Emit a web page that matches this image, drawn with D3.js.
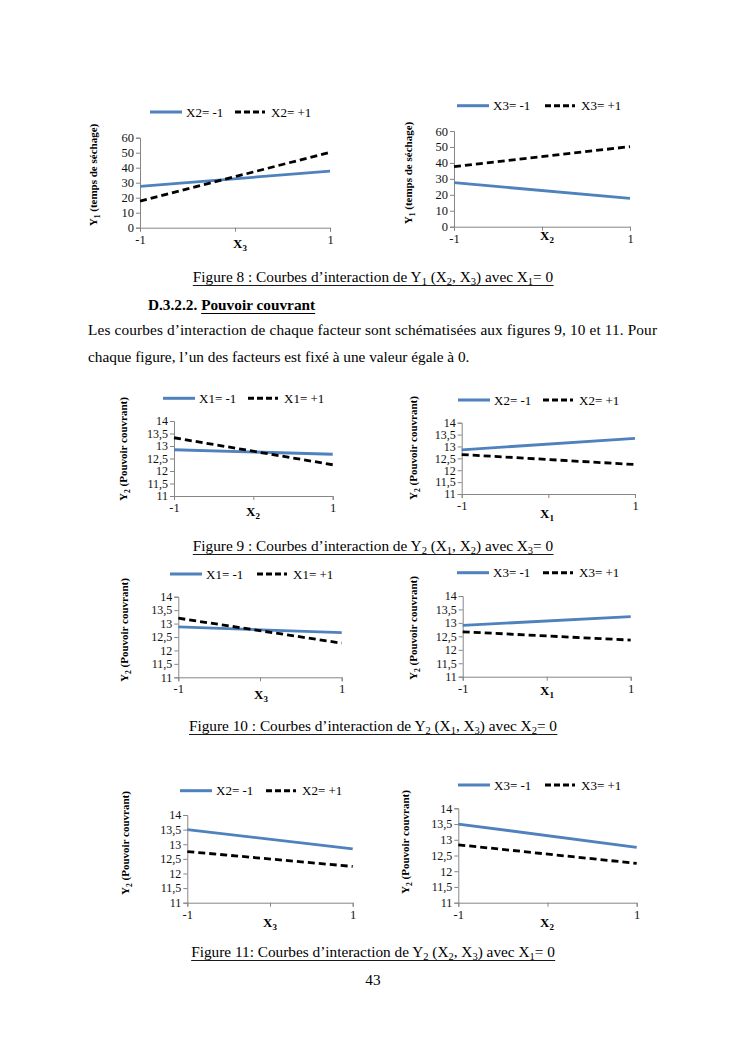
<!DOCTYPE html>
<html>
<head>
<meta charset="utf-8">
<script src="https://cdn.jsdelivr.net/npm/d3@7"></script>
<style>
  body { margin: 0; background: #fff; }
  svg, svg text { font-family: "Liberation Serif", "Times New Roman", serif; }
</style>
</head>
<body>
<div id="page"></div>
<script>
// --- data ---
const xCats = [-1, 1];
const y1Ticks = [0, 10, 20, 30, 40, 50, 60];
const y2Ticks = [11, 11.5, 12, 12.5, 13, 13.5, 14];
const y2TickLabels = ["11", "11,5", "12", "12,5", "13", "13,5", "14"];

const fig8a_low = [27.6, 37.7],  fig8a_high = [17.7, 50.3];
const fig8b_low = [27.6, 17.8],  fig8b_high = [37.7, 50.2];
const fig9a_low = [12.85, 12.67], fig9a_high = [13.33, 12.25];
const fig9b_low = [12.86, 13.34], fig9b_high = [12.66, 12.24];
const fig10a_low = [12.88, 12.66], fig10a_high = [13.2, 12.27];
const fig10b_low = [12.91, 13.23], fig10b_high = [12.67, 12.36];
const fig11a_low = [13.5, 12.84], fig11a_high = [12.75, 12.24];
const fig11b_low = [13.5, 12.76], fig11b_high = [12.84, 12.25];

const W = 745, H = 1053;
const blue = "#4f81bd", axisCol = "#868686";
const serif = "Liberation Serif";

const svg = d3.select("#page").append("svg")
  .attr("width", W).attr("height", H)
  .attr("font-family", serif);

// write text made of [string, isSub] parts
function rich(sel, parts, subSize, shift) {
  let shifted = 0;
  parts.forEach(([s, sub]) => {
    const t = sel.append("tspan").text(s);
    if (sub && !shifted) { t.attr("dy", shift).attr("font-size", subSize); shifted = 1; }
    else if (!sub && shifted) { t.attr("dy", -shift); shifted = 0; }
  });
  return sel;
}

function underline(sel, y) {
  const b = sel.node().getBBox();
  svg.append("line")
    .attr("x1", b.x).attr("x2", b.x + b.width)
    .attr("y1", y).attr("y2", y)
    .attr("stroke", "#000").attr("stroke-width", 0.9);
}

// --- panels ---
const panels = [
  { low: fig8a_low, high: fig8a_high, y1: true, leg: "X2", xl: "3",
    ax: 140, ar: 330, top: 137.7, bot: 227.7, ly: 112, lb: 150, lk: 235,
    tx: 93, ty: 175, yl: "1", ytitle: " (temps de séchage)", xlx: 240, xly: 248 },
  { low: fig8b_low, high: fig8b_high, y1: true, leg: "X3", xl: "2",
    ax: 454, ar: 630, top: 131, bot: 226.7, ly: 105.7, lb: 457, lk: 545,
    tx: 408, ty: 173, yl: "1", ytitle: " (temps de séchage)", xlx: 547, xly: 240 },
  { low: fig9a_low, high: fig9a_high, leg: "X1", xl: "2",
    ax: 174, ar: 332.7, top: 421, bot: 496, ly: 398.3, lb: 163, lk: 248,
    tx: 123, ty: 449, yl: "2", ytitle: " (Pouvoir couvrant)", xlx: 253, xly: 516 },
  { low: fig9b_low, high: fig9b_high, leg: "X2", xl: "1",
    ax: 461.7, ar: 635, top: 422.7, bot: 494, ly: 400, lb: 458, lk: 543,
    tx: 413, ty: 448, yl: "2", ytitle: " (Pouvoir couvrant)", xlx: 547, xly: 518 },
  { low: fig10a_low, high: fig10a_high, leg: "X1", xl: "3",
    ax: 178.3, ar: 341.7, top: 596.7, bot: 677.3, ly: 574, lb: 170, lk: 257,
    tx: 124, ty: 630, yl: "2", ytitle: " (Pouvoir couvrant)", xlx: 261, xly: 699 },
  { low: fig10b_low, high: fig10b_high, leg: "X3", xl: "1",
    ax: 462.7, ar: 630.7, top: 596, bot: 676.7, ly: 572.7, lb: 457, lk: 543,
    tx: 413, ty: 628, yl: "2", ytitle: " (Pouvoir couvrant)", xlx: 547, xly: 695 },
  { low: fig11a_low, high: fig11a_high, leg: "X2", xl: "3",
    ax: 187.3, ar: 352.7, top: 815, bot: 902.7, ly: 790.7, lb: 180, lk: 266,
    tx: 125, ty: 843, yl: "2", ytitle: " (Pouvoir couvrant)", xlx: 270, xly: 927 },
  { low: fig11b_low, high: fig11b_high, leg: "X3", xl: "2",
    ax: 458.3, ar: 636.7, top: 808.3, bot: 902.7, ly: 785, lb: 458, lk: 545,
    tx: 405, ty: 842, yl: "2", ytitle: " (Pouvoir couvrant)", xlx: 547, xly: 927 }
];

panels.forEach(p => {
  const g = svg.append("g");
  const x = d3.scalePoint().domain(xCats).range([p.ax, p.ar]);
  const ticks = p.y1 ? y1Ticks : y2Ticks;
  const y = d3.scaleLinear().domain(d3.extent(ticks)).range([p.bot, p.top]);

  // y axis
  const ya = g.append("g").attr("transform", `translate(${p.ax},0)`)
    .call(d3.axisLeft(y).tickValues(ticks).tickSizeOuter(0).tickSize(4)
      .tickFormat((d, i) => p.y1 ? d : y2TickLabels[i]));
  // x axis with a middle tick
  const xm = d3.scaleLinear().domain([-1, 1]).range([p.ax, p.ar]);
  const xa = g.append("g").attr("transform", `translate(0,${p.bot})`)
    .call(d3.axisBottom(xm).tickValues([-1, 0, 1]).tickSizeOuter(0).tickSize(4)
      .tickFormat(d => d === 0 ? "" : d));
  [ya, xa].forEach(a => {
    a.attr("font-family", serif).attr("font-size", 12.5);
    a.select(".domain").attr("stroke", axisCol);
    a.selectAll(".tick line").attr("stroke", axisCol);
    a.selectAll("text").attr("fill", "#111");
  });
  if (!p.y1) ya.attr("font-size", 12);
  ya.selectAll("text").attr("x", -6);
  xa.selectAll("text").attr("y", 7);

  const line = d3.line().x((d, i) => x(xCats[i])).y(d => y(d));
  g.append("path").datum(p.low).attr("d", line)
    .attr("fill", "none").attr("stroke", blue).attr("stroke-width", 2.8);
  g.append("path").datum(p.high).attr("d", line)
    .attr("fill", "none").attr("stroke", "#000").attr("stroke-width", 2.8)
    .attr("stroke-dasharray", "7,4");

  // legend
  g.append("line").attr("x1", p.lb).attr("x2", p.lb + 32)
    .attr("y1", p.ly).attr("y2", p.ly)
    .attr("stroke", blue).attr("stroke-width", 3);
  g.append("text").attr("x", p.lb + 36).attr("y", p.ly + 4.5)
    .attr("font-size", 13).text(p.leg + "= -1");
  g.append("line").attr("x1", p.lk).attr("x2", p.lk + 30)
    .attr("y1", p.ly).attr("y2", p.ly)
    .attr("stroke", "#000").attr("stroke-width", 3).attr("stroke-dasharray", "6,3");
  g.append("text").attr("x", p.lk + 36).attr("y", p.ly + 4.5)
    .attr("font-size", 13).text(p.leg + "= +1");

  // y title
  const yt = g.append("text")
    .attr("transform", `translate(${p.tx + 4},${p.ty}) rotate(-90)`)
    .attr("text-anchor", "middle").attr("font-size", 11).attr("font-weight", "bold");
  rich(yt, [["Y", 0], [p.yl, 1], [p.ytitle, 0]], 7.5, 2.5);

  // x title
  const xt = g.append("text").attr("x", p.xlx).attr("y", p.xly)
    .attr("text-anchor", "middle").attr("font-size", 13).attr("font-weight", "bold");
  rich(xt, [["X", 0], [p.xl, 1]], 9, 3);
});

// --- page text ---
const fs = 15.3;
function caption(parts, y) {
  const t = svg.append("text").attr("x", 373).attr("y", y)
    .attr("text-anchor", "middle").attr("font-size", fs);
  rich(t, parts, 10.5, 3);
  underline(t, y + 3.5);
}
caption([["Figure 8 : Courbes d\u2019interaction de Y", 0], ["1", 1], [" (X", 0], ["2", 1],
  [", X", 0], ["3", 1], [") avec X", 0], ["1", 1], ["= 0", 0]], 282);
caption([["Figure 9 : Courbes d\u2019interaction de Y", 0], ["2", 1], [" (X", 0], ["1", 1],
  [", X", 0], ["2", 1], [") avec X", 0], ["3", 1], ["= 0", 0]], 551);
caption([["Figure 10 : Courbes d\u2019interaction de Y", 0], ["2", 1], [" (X", 0], ["1", 1],
  [", X", 0], ["3", 1], [") avec X", 0], ["2", 1], ["= 0", 0]], 731);
caption([["Figure 11: Courbes d\u2019interaction de Y", 0], ["2", 1], [" (X", 0], ["2", 1],
  [", X", 0], ["3", 1], [") avec X", 0], ["1", 1], ["= 0", 0]], 957);

const head = svg.append("text").attr("x", 148).attr("y", 310)
  .attr("font-size", fs).attr("font-weight", "bold");
head.append("tspan").text("D.3.2.2. ");
head.append("tspan").text("Pouvoir couvrant");
{
  const n = head.node();
  const start = n.getStartPositionOfChar(9).x;
  const end = n.getEndPositionOfChar(n.getNumberOfChars() - 1).x;
  svg.append("line").attr("x1", start).attr("x2", end)
    .attr("y1", 313.5).attr("y2", 313.5).attr("stroke", "#000").attr("stroke-width", 1);
}

svg.append("text").attr("x", 88).attr("y", 335).attr("font-size", fs)
  .attr("textLength", 569).attr("lengthAdjust", "spacing")
  .text("Les courbes d\u2019interaction de chaque facteur sont schématisées aux figures 9, 10 et 11. Pour");
svg.append("text").attr("x", 88).attr("y", 362).attr("font-size", fs)
  .text("chaque figure, l\u2019un des facteurs est fixé à une valeur égale à 0.");

svg.append("text").attr("x", 373).attr("y", 985).attr("text-anchor", "middle")
  .attr("font-size", fs).text("43");
</script>
</body>
</html>
